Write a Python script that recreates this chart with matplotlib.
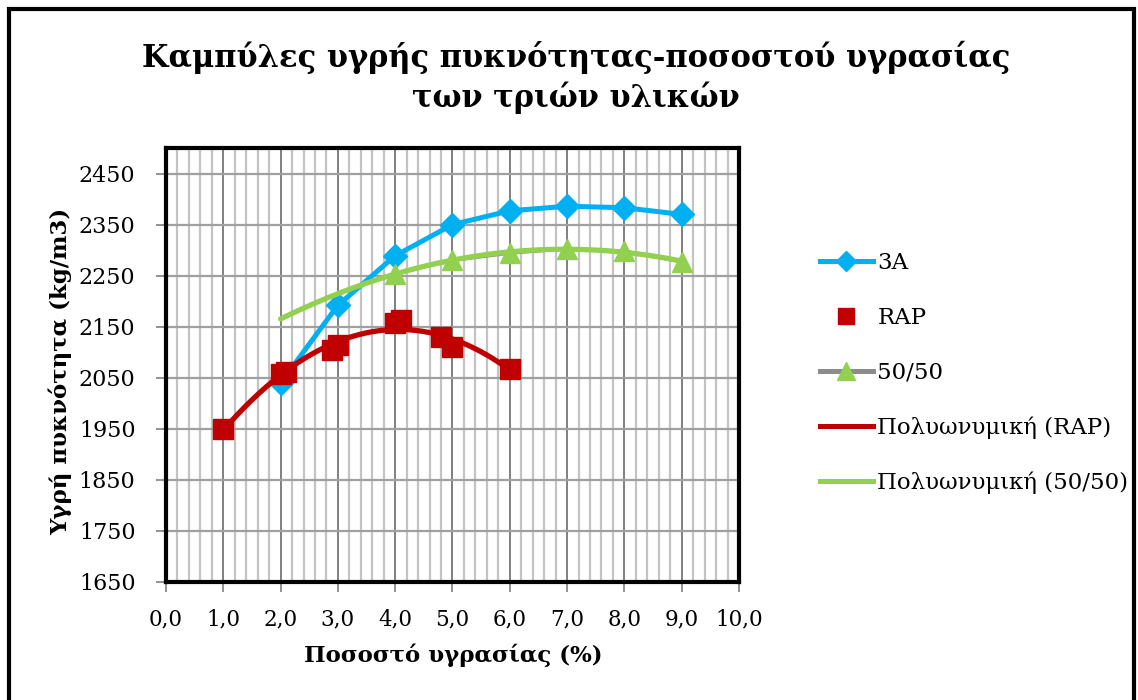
import numpy as np
import matplotlib.pyplot as plt
from matplotlib.patches import Rectangle
from matplotlib.lines import Line2D
from matplotlib.ticker import MultipleLocator, FuncFormatter

# moisture content (%) and wet density (kg/m3) per material
x_3a = [2, 3, 4, 5, 6, 7, 8, 9]
y_3a = [2040, 2192, 2289, 2350, 2377, 2386, 2383, 2370]

x_rap = [1.0, 2.0, 2.1, 2.9, 3.0, 4.0, 4.1, 4.8, 5.0, 6.0]
y_rap = [1950, 2058, 2062, 2104, 2114, 2157, 2164, 2129, 2111, 2068]

x_mix = [4, 5, 6, 7, 8, 9]
y_mix = [2254, 2280, 2294, 2303, 2298, 2277]

labels = ["3A", "RAP", "50/50", "Πολυωνυμική (RAP)", "Πολυωνυμική (50/50)"]

blue = "#00B0F0"
red = "#C00000"
green = "#92D050"
gray = "#8C8C8C"

plt.rcParams['font.family'] = ['DejaVu Serif']

fig = plt.figure(figsize=(11.38, 7.0), dpi=100)
ax = fig.add_axes([166 / 1138, 1 - 582 / 700, (739 - 166) / 1138, (582 - 148) / 700])

# 2nd order trendlines (the 50/50 one forecast back 2 units)
c_rap = np.polyfit(x_rap, y_rap, 2)
xr = np.linspace(min(x_rap), max(x_rap), 200)
c_mix = np.polyfit(x_mix, y_mix, 2)
xm = np.linspace(min(x_mix) - 2, max(x_mix), 200)

ax.plot(x_3a, y_3a, color=blue, lw=3.6, marker='D', ms=12.5, zorder=4)
ax.plot(x_mix, y_mix, color=gray, lw=2.4, zorder=3)
ax.plot(xm, np.polyval(c_mix, xm), color=green, lw=3.8, zorder=4, solid_capstyle='round')
ax.plot(x_mix, y_mix, ls='none', marker='^', ms=14, color=green, zorder=5)
ax.plot(xr, np.polyval(c_rap, xr), color=red, lw=3.8, zorder=5, solid_capstyle='round')
ax.plot(x_rap, y_rap, ls='none', marker='s', ms=14.5, color=red, zorder=6)

ax.set_xlim(0, 10)
ax.set_ylim(1650, 2500)
ax.xaxis.set_major_locator(MultipleLocator(1))
ax.xaxis.set_minor_locator(MultipleLocator(0.2))
ax.set_yticks(np.arange(1650, 2451, 100))
ax.xaxis.set_major_formatter(FuncFormatter(lambda v, p: f"{v:.1f}".replace(".", ",")))

ax.grid(True, which='minor', axis='x', color='#C3C3C3', lw=1.6)
ax.grid(True, which='major', axis='x', color='#7F7F7F', lw=1.4)
ax.grid(True, which='major', axis='y', color='#A0A0A0', lw=1.6)
ax.set_axisbelow(True)

for s in ax.spines.values():
    s.set_color('black')
    s.set_linewidth(3)

ax.tick_params(axis='both', which='major', direction='out', length=7, width=1.2,
               color='#7F7F7F', labelsize=16)
ax.tick_params(axis='x', which='major', pad=12, labelsize=15.5)
ax.tick_params(axis='y', which='major', pad=15)
ax.tick_params(axis='x', which='minor', length=0)

fig.text(576 / 1138, 1 - 77 / 700,
         "Καμπύλες υγρής πυκνότητας-ποσοστού υγρασίας\nτων τριών υλικών",
         ha='center', va='center', fontsize=22, fontweight='bold', linespacing=1.3)
fig.text(453 / 1138, 1 - 655 / 700, "Ποσοστό υγρασίας (%)",
         ha='center', va='center', fontsize=16.5, fontweight='bold')
fig.text(60 / 1138, 1 - 371 / 700, "Υγρή πυκνότητα (kg/m3)",
         ha='center', va='center', rotation=90, fontsize=16.5, fontweight='bold')

handles = [
    Line2D([], [], color=blue, lw=3.6, marker='D', ms=10),
    Line2D([], [], color=red, ls='none', marker='s', ms=12),
    Line2D([], [], color=gray, lw=3.6, marker='^', ms=13, mfc=green, mec=green),
    Line2D([], [], color=red, lw=3.6),
    Line2D([], [], color=green, lw=3.6),
]
fig.legend(handles, labels, loc='upper left', bbox_to_anchor=(820 / 1138, 1 - 252 / 700),
           frameon=False, fontsize=16.5, handlelength=2.3, handletextpad=0.2,
           labelspacing=1.43, borderpad=0, borderaxespad=0)

# outer chart frame
fig.patches.append(Rectangle((9 / 1138, -0.1), 1125 / 1138, 1.1 - 9 / 700,
                             transform=fig.transFigure, fill=False, ec='black', lw=3))

fig.savefig("out.png", dpi=100)
